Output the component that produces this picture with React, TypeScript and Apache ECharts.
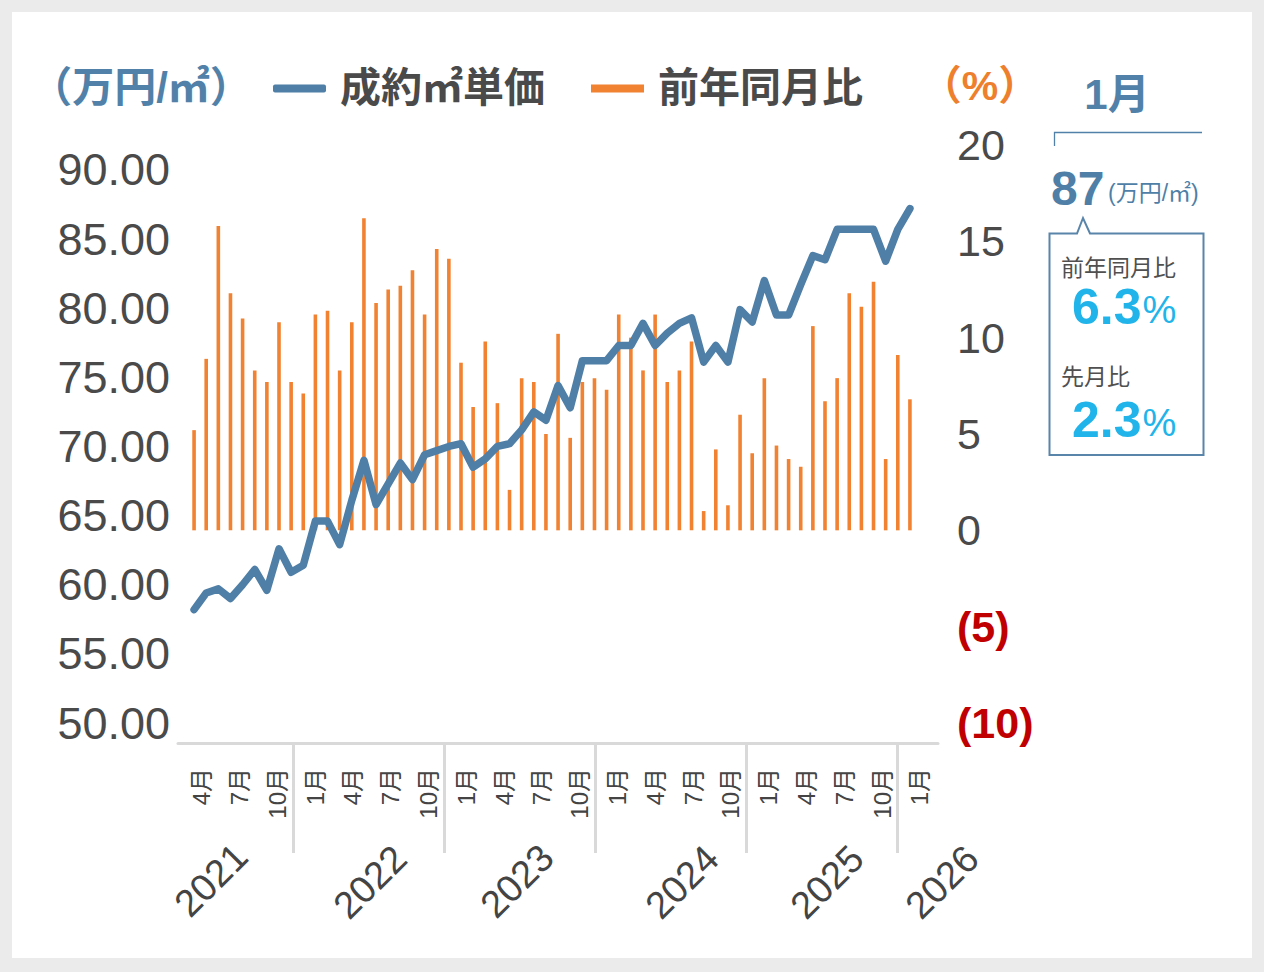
import React, { useEffect, useRef } from "react";
import * as echarts from "echarts";

// ---- data ----
const months = [
  "2021-02", "2021-03", "2021-04", "2021-05", "2021-06", "2021-07", "2021-08", "2021-09", "2021-10", "2021-11", "2021-12",
  "2022-01", "2022-02", "2022-03", "2022-04", "2022-05", "2022-06", "2022-07", "2022-08", "2022-09", "2022-10", "2022-11", "2022-12",
  "2023-01", "2023-02", "2023-03", "2023-04", "2023-05", "2023-06", "2023-07", "2023-08", "2023-09", "2023-10", "2023-11", "2023-12",
  "2024-01", "2024-02", "2024-03", "2024-04", "2024-05", "2024-06", "2024-07", "2024-08", "2024-09", "2024-10", "2024-11", "2024-12",
  "2025-01", "2025-02", "2025-03", "2025-04", "2025-05", "2025-06", "2025-07", "2025-08", "2025-09", "2025-10", "2025-11", "2025-12",
  "2026-01",
];

// 成約㎡単価 (万円/㎡)
const unitPrice = [
  58.2, 59.4, 59.7, 59.0, 60.0, 61.1, 59.6, 62.6, 60.9, 61.4,
  64.6, 64.6, 62.9, 66.1, 69.0, 65.8, 67.3, 68.8, 67.6, 69.4,
  69.7, 70.0, 70.2, 68.5, 69.1, 70.0, 70.2, 71.2, 72.5, 71.9,
  74.4, 72.8, 76.2, 76.2, 76.2, 77.3, 77.3, 78.9, 77.3, 78.2,
  78.9, 79.3, 76.1, 77.3, 76.1, 79.9, 79.0, 82.0, 79.5, 79.5,
  81.7, 83.8, 83.5, 85.7, 85.7, 85.7, 85.7, 83.4, 85.7, 87.2,
];

// 前年同月比 (%)
const yoyChange = [
  5.2, 8.9, 15.8, 12.3, 11.0, 8.3, 7.7, 10.8, 7.7, 7.1,
  11.2, 11.4, 8.3, 10.8, 16.2, 11.8, 12.5, 12.7, 13.5, 11.2,
  14.6, 14.1, 8.7, 6.4, 9.8, 6.6, 2.1, 7.9, 7.7, 5.0,
  10.2, 4.8, 7.7, 7.9, 7.3, 11.2, 10.0, 8.3, 11.2, 7.7,
  8.3, 9.8, 1.0, 4.2, 1.3, 6.0, 4.0, 7.9, 4.4, 3.7,
  3.3, 10.6, 6.7, 7.9, 12.3, 11.6, 12.9, 3.7, 9.1, 6.8,
];

const yearLabels = ["2021", "2022", "2023", "2024", "2025", "2026"];
const labelMonths = [1, 4, 7, 10];
const seriesNames = ["成約㎡単価", "前年同月比"];
const summary = {
  month: "1月",
  price: "87",
  unit: "(万円/㎡)",
  yoyLabel: "前年同月比",
  yoy: "6.3",
  momLabel: "先月比",
  mom: "2.3",
};

// ---- layout / style ----
const FONT = "'Liberation Sans', 'Noto Sans CJK JP', sans-serif";
const BLUE = "#4f7fa6";
const ORANGE = "#f08232";
const TEXT = "#4a4a4a";
const CYAN = "#20b4ea";
const yearCenters = [
  [211, 880],
  [370, 882],
  [517, 881],
  [682, 882],
  [827, 882],
  [942, 882],
];

function buildOption(): any {
  const yearTexts = yearLabels.map((t, i) => ({
    type: "text",
    x: yearCenters[i][0],
    y: yearCenters[i][1],
    rotation: Math.PI / 4,
    style: {
      text: t,
      fontSize: 38,
      fontFamily: FONT,
      fill: "#444",
      align: "center",
      verticalAlign: "middle",
    },
  }));

  const pct = (value: string, y: number) => ({
    type: "text",
    x: 1072,
    y,
    style: {
      text: `{a|${value}}{b|%}`,
      align: "left",
      verticalAlign: "middle",
      rich: {
        a: { fontSize: 50, fontWeight: "bold", fontFamily: FONT, fill: CYAN, verticalAlign: "bottom" },
        b: { fontSize: 38, fontFamily: FONT, fill: CYAN, verticalAlign: "bottom", padding: [0, 0, 3, 1] },
      },
    },
  });

  return {
    animation: false,
    textStyle: { fontFamily: FONT },
    legend: {
      left: 273,
      top: 68,
      padding: 0,
      itemWidth: 53,
      itemHeight: 8,
      itemGap: 46,
      selectedMode: false,
      itemStyle: { borderWidth: 0 },
      textStyle: {
        fontSize: 41,
        fontWeight: "bold",
        color: TEXT,
        fontFamily: FONT,
        padding: [0, 0, 0, 9],
      },
      data: [
        { name: seriesNames[0], icon: "roundRect" },
        { name: seriesNames[1], icon: "rect" },
      ],
    },
    grid: [
      { left: 188, top: 145, width: 728, height: 578 },
      { left: 170.2, top: 143, width: 756, height: 600 },
      { left: 178, top: 143, width: 760, height: 600 },
      { left: 293.3, top: 143, width: 604, height: 600 },
    ],
    xAxis: [
      { gridIndex: 0, type: "category", data: months, show: false, boundaryGap: true },
      {
        gridIndex: 1,
        type: "category",
        data: months,
        boundaryGap: true,
        axisLine: { show: false },
        axisTick: { show: false },
        axisLabel: {
          rotate: 90,
          margin: 25,
          fontSize: 24,
          color: "#444",
          fontFamily: FONT,
          interval: (_i: number, v: string) => labelMonths.includes(parseInt(v.slice(5), 10)),
          formatter: (v: string) => `${parseInt(v.slice(5), 10)}月`,
        },
      },
      {
        gridIndex: 2,
        type: "category",
        data: months,
        axisLine: { show: true, lineStyle: { color: "#d9d9d9", width: 3 } },
        axisTick: { show: false },
        axisLabel: { show: false },
      },
      {
        gridIndex: 3,
        type: "value",
        min: 0,
        max: 48,
        interval: 12,
        axisLine: { show: false },
        axisLabel: { show: false },
        splitLine: { show: false },
        axisTick: { show: true, length: 110, lineStyle: { color: "#d9d9d9", width: 3 } },
      },
    ],
    yAxis: [
      {
        gridIndex: 0,
        type: "value",
        position: "left",
        min: 50,
        max: 91.8,
        interval: 5,
        axisLine: { show: false },
        axisTick: { show: false },
        splitLine: { show: false },
        axisLabel: {
          showMaxLabel: false,
          margin: 18,
          fontSize: 45,
          color: TEXT,
          fontFamily: FONT,
          formatter: (v: number) => v.toFixed(2),
        },
      },
      {
        gridIndex: 0,
        type: "value",
        position: "right",
        min: -10,
        max: 20,
        interval: 5,
        axisLine: { show: false },
        axisTick: { show: false },
        splitLine: { show: false },
        axisLabel: {
          margin: 41,
          fontSize: 43,
          fontFamily: FONT,
          color: (v: any) => (Number(v) < 0 ? "#c00000" : TEXT),
          fontWeight: "normal",
          formatter: (v: number) => (v < 0 ? `{n|(${-v})}` : `${v}`),
          rich: {
            n: { fontSize: 43, fontWeight: "bold", color: "#c00000", fontFamily: FONT },
          },
        },
      },
      { gridIndex: 1, type: "value", show: false },
      { gridIndex: 2, type: "value", show: false },
      { gridIndex: 3, type: "value", show: false },
    ],
    series: [
      {
        name: seriesNames[1],
        type: "bar",
        xAxisIndex: 0,
        yAxisIndex: 1,
        data: yoyChange,
        barWidth: 3.6,
        itemStyle: { color: ORANGE },
        z: 2,
      },
      {
        name: seriesNames[0],
        type: "line",
        xAxisIndex: 0,
        yAxisIndex: 0,
        data: unitPrice,
        symbol: "none",
        lineStyle: { color: BLUE, width: 7.5, cap: "round", join: "round" },
        itemStyle: { color: BLUE },
        z: 3,
      },
    ],
    graphic: [
      {
        type: "text",
        x: 141,
        y: 87,
        style: {
          text: "（万円/㎡）",
          fontSize: 42,
          fontWeight: "bold",
          fontFamily: FONT,
          fill: "#5181a8",
          align: "center",
          verticalAlign: "middle",
        },
      },
      {
        type: "text",
        x: 980,
        y: 86,
        style: {
          text: "（%）",
          fontSize: 41,
          fontWeight: "bold",
          fontFamily: FONT,
          fill: "#ee7f2d",
          align: "center",
          verticalAlign: "middle",
        },
      },
      ...yearTexts,
      {
        type: "text",
        x: 1117,
        y: 94,
        style: {
          text: summary.month,
          fontSize: 42,
          fontWeight: "bold",
          fontFamily: FONT,
          fill: "#5181a8",
          align: "center",
          verticalAlign: "middle",
        },
      },
      {
        type: "polyline",
        shape: { points: [[1054.5, 146], [1054.5, 132.5], [1202, 132.5]] },
        style: { stroke: "#5181a8", lineWidth: 1.3, fill: "none" },
      },
      {
        type: "text",
        x: 1051,
        y: 188,
        style: {
          text: summary.price,
          fontSize: 48,
          fontWeight: "bold",
          fontFamily: FONT,
          fill: BLUE,
          align: "left",
          verticalAlign: "middle",
        },
      },
      {
        type: "text",
        x: 1108,
        y: 193,
        style: {
          text: summary.unit,
          fontSize: 23,
          fontFamily: FONT,
          fill: BLUE,
          align: "left",
          verticalAlign: "middle",
        },
      },
      {
        type: "polygon",
        shape: {
          points: [
            [1049.5, 233.5], [1077, 233.5], [1083, 218], [1090, 233.5],
            [1203.5, 233.5], [1203.5, 455], [1049.5, 455],
          ],
        },
        style: { stroke: "#5a85aa", lineWidth: 2, fill: "#ffffff" },
      },
      {
        type: "text",
        x: 1061,
        y: 268,
        style: {
          text: summary.yoyLabel,
          fontSize: 23,
          fontFamily: FONT,
          fill: "#505050",
          align: "left",
          verticalAlign: "middle",
        },
      },
      pct(summary.yoy, 307),
      {
        type: "text",
        x: 1061,
        y: 377,
        style: {
          text: summary.momLabel,
          fontSize: 23,
          fontFamily: FONT,
          fill: "#505050",
          align: "left",
          verticalAlign: "middle",
        },
      },
      pct(summary.mom, 420),
    ],
  };
}

export default function App() {
  const ref = useRef<HTMLDivElement>(null);
  useEffect(() => {
    if (!ref.current) return;
    const chart = echarts.init(ref.current, null, { renderer: "svg" });
    chart.setOption(buildOption());
    return () => chart.dispose();
  }, []);
  return (
    <div style={{ position: "fixed", left: 0, top: 0, width: 1264, height: 972, background: "#ebebeb" }}>
      <div style={{ position: "absolute", left: 12, top: 12, width: 1240, height: 946, background: "#ffffff" }} />
      <div ref={ref} style={{ position: "absolute", left: 0, top: 0, width: 1264, height: 972 }} />
    </div>
  );
}
